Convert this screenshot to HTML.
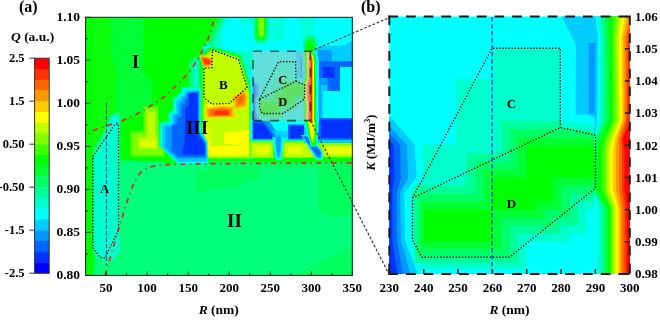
<!DOCTYPE html><html><head><meta charset="utf-8"><style>html,body{margin:0;padding:0;background:#fff;}svg{display:block;will-change:transform;}text{font-family:"Liberation Serif",serif;font-weight:bold;fill:#000;}</style></head><body>
<svg width="660" height="320" viewBox="0 0 660 320">
<defs>
<clipPath id="cb"><rect x="389.3" y="16.6" width="240.5" height="257.4"/></clipPath>
<clipPath id="ca"><rect x="85.6" y="17.3" width="266.7" height="258.1"/></clipPath>
<clipPath id="cr"><rect x="253.0" y="51.3" width="57.4" height="69.3"/></clipPath>
</defs>
<g clip-path="url(#ca)">
<rect x="80.0" y="10.0" width="280.0" height="270.0" fill="#00FF00"/>
<polygon points="93.5,10.0 111.0,10.0 111.0,57.6 116.5,70.0 116.5,135.0 93.5,150.0" fill="#0DFF0E"/>
<polygon points="111.0,10.0 143.5,10.0 143.5,70.0 152.0,82.0 152.0,106.0 140.0,112.5 118.0,122.5 116.5,122.5 116.5,70.0 111.0,57.6" fill="#00FF33"/>
<polygon points="204.0,56.0 206.0,45.0 209.0,33.0 215.0,24.0 219.5,10.0 360.0,10.0 360.0,56.0" fill="#00FF33"/>
<polygon points="206.5,56.0 208.5,45.0 212.0,33.0 217.5,24.0 221.5,10.0 360.0,10.0 360.0,56.0" fill="#00FF66"/>
<polygon points="208.5,56.0 211.0,45.0 215.0,33.0 220.0,24.0 223.5,10.0 360.0,10.0 360.0,56.0" fill="#00FF99"/>
<polygon points="210.5,56.0 213.5,45.0 218.0,33.0 222.5,24.0 225.5,10.0 360.0,10.0 360.0,56.0" fill="#00FFCC"/>
<polygon points="227.5,10.0 360.0,10.0 360.0,56.0 225.0,50.0 221.0,44.0 221.5,33.0 225.0,24.0" fill="#00FFFF"/>
<polygon points="240.0,10.0 256.0,10.0 256.0,24.0 240.0,24.0" fill="#00FFCC" opacity="0.6"/>
<polygon points="268.0,10.0 284.0,10.0 284.0,41.0 268.0,41.0" fill="#00FFCC" opacity="0.7"/>
<polygon points="300.0,10.0 314.0,10.0 314.0,36.0 300.0,36.0" fill="#00FFCC" opacity="0.7"/>
<polygon points="201.0,54.0 203.0,46.0 208.0,43.0 212.0,46.0 212.0,56.0" fill="#00FFCC"/>
<polygon points="203.0,53.0 205.0,47.0 209.0,45.0 211.5,48.0 211.5,55.0" fill="#00FFFF"/>
<polygon points="253.5,10.0 268.0,10.0 268.0,38.0 265.0,43.0 256.0,43.0 253.5,38.0" fill="#00FF99"/>
<polygon points="255.0,10.0 266.7,10.0 266.7,36.0 264.0,41.0 257.5,41.0 255.0,36.0" fill="#00FF33"/>
<polygon points="258.5,10.0 264.0,10.0 264.0,35.0 261.5,38.0 258.5,35.0" fill="#80FF00"/>
<polygon points="303.0,40.0 306.5,35.0 314.0,35.0 317.5,40.0 317.5,54.0 303.0,54.0" fill="#00FF99"/>
<polygon points="305.0,43.0 307.5,38.5 313.0,38.5 315.5,43.0 315.5,54.0 305.0,54.0" fill="#00FF33"/>
<polygon points="306.3,46.0 308.5,42.0 311.0,42.0 312.8,46.0 312.8,54.0 306.3,54.0" fill="#00FF00"/>
<polygon points="306.5,50.5 312.5,50.5 312.5,55.0 306.5,55.0" fill="#80FF00"/>
<polygon points="317.5,42.0 360.0,42.0 360.0,126.0 317.5,126.0" fill="#00FFFF"/>
<polygon points="317.5,47.0 345.0,45.0 352.0,41.0 360.0,40.0 360.0,67.0 334.5,67.0 334.5,91.0 323.0,91.0 323.0,118.0 317.5,118.0" fill="#00CCFF"/>
<polygon points="317.5,50.0 331.7,50.0 331.7,61.3 360.0,61.3 360.0,67.0 334.5,67.0 334.5,78.0 327.5,78.0 327.5,85.0 321.0,85.0 321.0,118.0 317.5,118.0" fill="#0099FF"/>
<polygon points="319.0,61.3 360.0,61.3 360.0,67.0 340.0,67.0 340.0,91.0 327.5,91.0 327.5,78.0 319.0,78.0" fill="#0066FF"/>
<polygon points="323.0,67.0 334.5,67.0 334.5,78.0 323.0,78.0" fill="#0033FF"/>
<polygon points="189.0,62.0 195.0,56.0 200.0,57.0 200.0,88.0 189.0,88.0" fill="#00FF66"/>
<polygon points="191.5,64.0 196.0,58.0 199.0,60.0 199.0,88.0 191.5,88.0" fill="#00FF99"/>
<polygon points="194.0,66.0 196.5,61.0 198.3,64.0 198.3,88.0 194.0,88.0" fill="#00FFCC"/>
<polygon points="199.0,70.0 200.0,56.0 207.0,49.0 212.0,46.5 241.0,55.0 250.0,82.0 251.0,95.0 251.0,160.0 203.0,160.0 200.0,140.0 199.0,110.0 199.0,90.0" fill="#00FF33"/>
<polygon points="202.5,70.0 204.0,57.0 208.0,50.0 212.0,48.5 240.0,57.0 248.5,84.0 250.0,95.0 250.5,159.0 204.0,159.0 201.4,140.0 201.4,110.0 202.5,90.0" fill="#40FF00"/>
<polygon points="203.5,68.0 205.0,56.0 212.0,49.5 239.0,58.0 247.5,86.0 249.0,95.0 249.5,157.5 206.0,157.5 204.0,140.0 203.5,120.0" fill="#BFFF00"/>
<polygon points="203.5,126.0 207.0,127.0 211.0,146.0 211.0,153.0 207.0,153.0 205.0,140.0" fill="#FFFF00"/>
<polygon points="224.0,133.0 249.0,130.0 249.0,145.5 224.0,144.0" fill="#FFFF00"/>
<polygon points="209.0,146.5 249.0,145.5 249.0,155.0 210.0,155.5" fill="#FFFF00"/>
<polygon points="208.0,103.0 230.0,103.0 230.0,108.0 208.0,108.0" fill="#FFFF00"/>
<polygon points="241.0,56.0 253.0,56.0 253.0,160.0 250.5,160.0 250.5,95.0 249.0,82.0" fill="#00FFCC"/>
<polygon points="250.0,70.0 253.0,70.0 253.0,121.0 251.5,121.0 251.5,90.0" fill="#00FFFF"/>
<polygon points="199.0,55.0 205.0,55.5 212.6,58.0 212.6,64.0 210.0,66.5 203.5,66.5" fill="#FFCC00"/>
<polygon points="201.0,57.0 206.0,57.5 211.5,59.5 211.5,63.5 209.5,65.5 204.0,65.5" fill="#FF6600"/>
<polygon points="203.5,59.0 207.0,59.5 210.0,61.0 209.5,64.0 205.5,64.0" fill="#FF3300"/>
<polygon points="205.3,108.0 222.0,105.5 234.0,106.5 235.0,117.6 206.0,118.0" fill="#FFCC00"/>
<polygon points="207.0,109.0 222.0,107.0 232.0,108.0 232.5,116.5 208.0,117.0" fill="#FF9900"/>
<polygon points="210.0,110.0 222.0,108.5 230.0,109.5 230.0,115.6 211.0,116.0" fill="#FF6600"/>
<polygon points="214.0,111.0 228.0,110.5 228.5,115.0 215.0,115.0" fill="#FF3300"/>
<polygon points="232.0,96.0 245.5,90.0 248.0,98.0 246.5,107.3 234.0,109.0" fill="#FFCC00"/>
<polygon points="234.0,97.0 244.0,92.0 246.0,99.0 245.0,106.0 236.0,107.5" fill="#FF9900"/>
<polygon points="237.0,98.0 243.0,95.0 244.0,101.0 239.0,105.0" fill="#FF6600"/>
<polygon points="143.0,106.0 159.0,106.0 159.0,131.0 165.0,133.0 165.0,157.0 130.0,157.0 130.0,131.0 143.0,131.0" fill="#40FF00"/>
<polygon points="144.5,108.5 157.5,108.5 157.5,133.0 163.5,135.0 163.5,155.0 132.5,155.0 132.5,133.0 144.5,133.0" fill="#80FF00"/>
<polygon points="147.0,112.5 155.0,112.5 155.0,137.0 157.2,137.0 157.2,148.5 138.7,148.5 138.7,137.2 147.0,137.0" fill="#BFFF00"/>
<polygon points="141.0,140.0 156.0,140.0 156.0,147.0 141.0,147.0" fill="#FFFF00" opacity="0.5"/>
<polygon points="201.4,86.0 201.4,130.0 207.5,141.0 208.0,165.0 178.0,165.0 159.0,146.0 159.0,122.0 168.0,120.8 168.0,111.0 172.5,109.8 172.5,97.0 177.0,95.8 177.0,93.0 180.5,91.8 180.5,86.5" fill="#00FF66"/>
<polygon points="200.5,87.5 200.5,130.0 207.0,142.0 207.5,164.0 178.5,164.0 160.5,146.5 160.5,123.5 169.6,122.3 169.6,112.5 174.0,111.3 174.0,98.5 178.4,97.3 178.4,94.5 182.0,93.3 182.0,88.0" fill="#00FFCC"/>
<polygon points="200.0,88.5 200.0,130.5 207.0,142.0 207.5,163.5 178.5,163.5 161.5,147.0 161.5,124.2 170.6,123.0 170.6,113.2 175.0,112.0 175.0,99.2 179.4,98.0 179.4,95.2 183.2,94.0 183.2,89.2" fill="#00FFFF"/>
<polygon points="199.7,90.0 199.7,131.0 206.5,142.5 207.0,162.0 178.0,162.0 162.7,147.5 162.7,125.0 171.9,123.8 171.9,114.2 176.3,113.0 176.3,100.2 180.6,99.0 180.6,96.2 184.4,95.0 184.4,90.5" fill="#00CCFF"/>
<polygon points="199.0,91.0 199.0,132.0 206.0,143.0 206.5,158.5 177.5,158.5 165.5,148.0 165.5,127.0 174.4,125.8 174.4,115.3 178.8,114.1 178.8,102.8 182.5,101.6 182.5,97.8 186.3,96.6 186.3,92.7" fill="#0099FF"/>
<polygon points="198.5,92.0 198.5,133.0 205.5,143.5 205.5,157.0 178.5,157.0 172.0,151.0 172.0,125.0 177.0,123.8 177.0,118.0 181.5,116.8 181.5,105.0 184.8,103.8 184.8,100.0 187.5,98.8 187.5,94.0" fill="#0066FF"/>
<polygon points="188.5,92.7 197.5,92.7 197.5,135.0 205.0,144.6 205.0,154.5 183.0,154.5 182.4,149.5 184.5,144.0 185.0,125.0 185.0,108.0 188.5,106.0" fill="#0033FF"/>
<polygon points="92.8,152.0 98.0,142.0 103.0,134.0 107.0,126.0 109.0,118.0 113.0,113.0 120.0,113.0 121.0,255.0 118.0,261.0 96.0,262.0 92.8,252.0" fill="#00FF99"/>
<polygon points="94.0,160.0 98.0,149.0 103.0,140.0 107.5,131.0 110.0,122.0 114.0,117.0 119.0,117.0 119.5,252.0 114.0,258.0 99.0,258.0 94.0,249.0" fill="#00FFCC"/>
<polygon points="110.5,124.0 112.0,118.0 116.0,116.0 119.0,119.0 118.8,128.0 114.0,131.0" fill="#00FFFF" opacity="0.7"/>
<polygon points="119.5,160.5 160.0,161.5 168.0,164.0 206.0,164.8 210.0,162.0 360.0,161.5 360.0,280.0 94.0,280.0 94.0,262.0 121.0,260.0" fill="#00FF7A"/>
<polygon points="318.4,163.0 360.0,163.0 360.0,216.0 327.0,216.0 318.4,210.0" fill="#00FF5C"/>
<polygon points="285.0,280.0 360.0,242.5 360.0,280.0" fill="#00FF5C"/>
<polygon points="250.0,163.0 259.0,163.0 259.0,180.0 250.0,180.0" fill="#00FF5C"/>
<polygon points="196.0,170.0 252.5,168.0 252.0,176.0 246.0,181.0 236.0,188.0 208.0,188.5 204.0,192.0 196.0,192.0" fill="#00FF5C"/>
<polygon points="211.0,161.0 360.0,161.0 360.0,167.5 211.0,167.5" fill="#00FF5C"/>
<rect x="252.5" y="157.0" width="107.5" height="5.0" fill="#00FF00"/>
<rect x="250.0" y="121.0" width="56.0" height="22.0" fill="#00FFFF"/>
<rect x="250.0" y="139.0" width="56.0" height="4.0" fill="#00FF99"/>
<rect x="250.0" y="141.5" width="23.5" height="16.5" fill="#80FF00"/>
<rect x="282.5" y="141.5" width="23.5" height="16.5" fill="#80FF00"/>
<rect x="252.0" y="143.5" width="19.5" height="13.0" fill="#BFFF00"/>
<rect x="284.5" y="143.5" width="20.0" height="13.0" fill="#BFFF00"/>
<polygon points="256.0,146.0 269.0,146.0 269.0,154.5 256.0,154.5" fill="#FFFF00" opacity="0.6"/>
<polygon points="288.0,146.0 302.0,146.0 302.0,154.5 288.0,154.5" fill="#FFFF00" opacity="0.6"/>
<polygon points="252.5,121.0 266.0,121.0 276.0,136.0 276.0,139.5 252.5,139.5" fill="#0066FF"/>
<polygon points="253.0,123.0 263.0,123.0 272.0,136.0 272.0,138.5 253.0,138.5" fill="#0033FF"/>
<polygon points="264.0,121.0 269.0,121.0 281.0,137.5 276.5,139.5" fill="#0099FF"/>
<polygon points="272.5,130.8 290.5,130.8 290.5,138.0 278.0,138.0" fill="#00CCFF"/>
<rect x="288.0" y="124.5" width="18.0" height="15.0" fill="#0066FF"/>
<rect x="290.0" y="126.0" width="14.5" height="12.0" fill="#0033FF"/>
<polygon points="272.5,137.0 284.0,137.0 281.5,160.0 275.5,160.0" fill="#00FFFF"/>
<polygon points="274.5,137.0 282.0,137.0 280.5,158.0 276.5,158.0" fill="#00CCFF"/>
<polygon points="275.8,137.0 280.8,137.0 279.8,155.0 277.2,155.0" fill="#0099FF"/>
<rect x="304.0" y="118.0" width="56.0" height="25.0" fill="#00CCFF"/>
<polygon points="318.0,118.0 360.0,118.0 360.0,139.8 318.0,139.8" fill="#0066FF"/>
<polygon points="321.0,120.0 360.0,120.0 360.0,138.0 321.0,138.0" fill="#0033FF"/>
<polygon points="316.0,143.0 360.0,143.0 360.0,157.5 320.0,157.5" fill="#80FF00"/>
<polygon points="321.0,145.0 360.0,145.0 360.0,156.0 323.0,156.0" fill="#BFFF00"/>
<polygon points="326.0,147.0 360.0,147.0 360.0,154.0 328.0,154.0" fill="#FFFF00" opacity="0.7"/>
<polygon points="304.0,143.0 316.0,143.0 320.0,157.5 304.0,157.5" fill="#BFFF00"/>
<polygon points="301.0,135.0 309.0,135.0 323.0,152.0 323.0,159.5 316.0,159.5" fill="#00FFFF"/>
<polygon points="302.5,136.0 309.0,136.0 321.5,152.0 321.0,158.0 317.0,158.0" fill="#0099FF"/>
<polygon points="304.0,137.0 308.5,137.0 320.0,152.0 319.5,156.0 317.5,156.0" fill="#0066FF"/>
<polygon points="303.0,118.0 319.0,118.0 317.5,146.0 311.0,147.0" fill="#00FFFF"/>
<polygon points="305.0,118.0 317.0,118.0 316.0,145.0 311.5,146.0" fill="#00FF00"/>
<polygon points="306.5,118.0 315.5,118.0 314.5,142.0 312.0,143.0" fill="#80FF00"/>
<polygon points="308.0,118.0 314.0,118.0 313.3,138.0 311.5,140.0" fill="#FFFF00"/>
<polygon points="309.5,116.0 313.0,116.0 312.8,123.0 310.0,123.0" fill="#FF6600"/>
<polygon points="309.0,51.0 313.0,50.0 316.5,53.0 318.7,58.0 318.7,121.0 309.0,121.0" fill="#00FFFF"/>
<polygon points="309.0,52.0 312.5,51.5 315.0,55.0 316.1,60.0 316.1,121.0 309.0,121.0" fill="#00FF00"/>
<polygon points="309.0,53.5 312.0,53.0 313.5,57.0 314.0,62.0 314.0,121.0 309.0,121.0" fill="#FFFF00"/>
<polygon points="309.0,55.0 311.5,55.0 312.7,59.0 312.8,64.0 312.8,121.0 309.0,121.0" fill="#FF9900"/>
<polygon points="309.0,57.0 311.0,57.0 312.0,61.0 312.0,121.0 309.0,121.0" fill="#FF3300"/>
<polygon points="309.0,63.0 311.5,63.0 311.5,118.0 309.0,118.0" fill="#FF0000"/>
<g clip-path="url(#cr)"><g transform="translate(160.086,46.831) scale(0.23867,0.26923)">
<rect x="380.0" y="10.0" width="260.0" height="270.0" fill="#00FFFF"/>
<polygon points="456.2,79.0 492.4,79.0 492.4,48.4 560.6,48.4 560.6,121.1 598.0,121.1 598.0,209.6 586.9,209.6 586.9,233.7 569.7,233.7 569.7,241.8 526.7,241.8 526.7,269.0 428.0,269.0 424.0,266.0 411.0,240.0 410.6,193.5 422.6,178.0 422.4,144.5 456.2,144.5" fill="#00FFCC"/>
<rect x="414.4" y="185.5" width="103.8" height="77.5" fill="#00FF99"/>
<rect x="466.6" y="153.3" width="94.4" height="80.4" fill="#00FF99"/>
<rect x="500.9" y="121.2" width="77.3" height="104.5" fill="#00FF99"/>
<rect x="526.7" y="121.2" width="71.3" height="80.3" fill="#00FF99"/>
<rect x="417.5" y="193.5" width="92.1" height="63.1" fill="#00FF66"/>
<rect x="475.2" y="161.3" width="77.3" height="64.4" fill="#00FF66"/>
<rect x="509.5" y="129.2" width="60.2" height="88.5" fill="#00FF66"/>
<rect x="535.3" y="129.2" width="62.7" height="64.3" fill="#00FF66"/>
<rect x="421.0" y="201.6" width="80.0" height="47.4" fill="#00FF33"/>
<rect x="483.8" y="169.4" width="60.1" height="48.3" fill="#00FF33"/>
<rect x="518.1" y="137.3" width="43.0" height="72.4" fill="#00FF33"/>
<rect x="543.9" y="137.3" width="54.1" height="48.2" fill="#00FF33"/>
<rect x="423.8" y="209.6" width="68.6" height="32.0" fill="#00FF00"/>
<rect x="492.4" y="177.4" width="42.9" height="32.2" fill="#00FF00"/>
<rect x="526.7" y="145.3" width="25.8" height="56.3" fill="#00FF00"/>
<rect x="552.5" y="145.3" width="45.5" height="32.1" fill="#00FF00"/>
<polygon points="560.6,121.1 598.0,126.5 598.0,133.0 560.6,127.5" fill="#00FFCC"/>
<polygon points="560.6,48.4 598.0,48.4 598.0,126.0 560.6,121.1" fill="#00FFFF"/>
<polygon points="558.5,10.0 598.0,10.0 598.0,119.5 588.0,114.5 575.5,114.5 576.0,45.0" fill="#00CCFF"/>
<rect x="588.6" y="43.0" width="7.0" height="70.6" fill="#0099FF"/>
<polygon points="380.0,116.0 389.3,116.0 414.5,144.0 416.2,170.0 416.2,178.0 404.3,193.0 405.0,240.0 420.0,280.0 380.0,280.0" fill="#00CCFF"/>
<polygon points="380.0,126.0 389.3,126.0 407.0,145.0 408.0,178.0 400.0,193.0 401.0,240.0 412.0,280.0 380.0,280.0" fill="#0099FF"/>
<polygon points="380.0,133.0 389.3,133.0 400.0,145.0 401.0,178.0 396.5,193.0 397.0,240.0 404.0,280.0 380.0,280.0" fill="#0066FF"/>
<polygon points="380.0,141.0 389.3,141.0 393.5,145.0 394.5,178.0 392.3,193.0 392.5,240.0 398.0,280.0 380.0,280.0" fill="#0033FF"/>
<polygon points="594.0,16.0 594.0,20.0 595.6,37.0 594.6,115.0 594.6,120.0 594.0,139.0 594.0,150.0 594.0,190.0 594.0,208.0 594.0,275.0 640.0,275.0 640.0,16.0" fill="#00CCFF"/>
<polygon points="595.6,16.0 595.6,20.0 597.9,37.0 597.2,115.0 597.2,120.0 594.0,139.0 594.0,150.0 594.0,190.0 594.0,208.0 594.0,275.0 640.0,275.0 640.0,16.0" fill="#00FFFF"/>
<polygon points="598.5,16.0 598.5,20.0 600.2,37.0 599.8,115.0 599.8,120.0 594.0,139.0 594.0,150.0 594.0,190.0 597.9,208.0 597.9,275.0 640.0,275.0 640.0,16.0" fill="#00FFCC"/>
<polygon points="601.0,16.0 601.0,20.0 602.6,37.0 602.3,115.0 602.3,120.0 594.0,139.0 594.0,150.0 594.0,190.0 601.0,208.0 601.0,275.0 640.0,275.0 640.0,16.0" fill="#00FF99"/>
<polygon points="603.9,16.0 603.9,20.0 604.9,37.0 604.9,115.0 604.9,120.0 596.0,139.0 594.0,150.0 594.0,190.0 603.4,208.0 603.4,275.0 640.0,275.0 640.0,16.0" fill="#00FF66"/>
<polygon points="606.7,16.0 606.7,20.0 607.3,37.0 607.4,115.0 607.4,120.0 598.5,139.0 594.0,150.0 594.0,190.0 605.7,208.0 605.7,275.0 640.0,275.0 640.0,16.0" fill="#00FF33"/>
<polygon points="609.6,16.0 609.6,20.0 609.6,37.0 610.0,115.0 610.0,120.0 601.5,139.0 598.0,150.0 598.0,190.0 608.0,208.0 608.0,275.0 640.0,275.0 640.0,16.0" fill="#00FF00"/>
<polygon points="612.6,16.0 612.6,20.0 612.0,37.0 612.5,115.0 612.5,120.0 604.2,139.0 601.8,150.0 601.8,190.0 610.0,208.0 610.0,275.0 640.0,275.0 640.0,16.0" fill="#40FF00"/>
<polygon points="615.6,16.0 615.6,20.0 614.3,37.0 615.1,115.0 615.1,120.0 607.0,139.0 605.0,150.0 605.0,190.0 612.0,208.0 612.0,275.0 640.0,275.0 640.0,16.0" fill="#80FF00"/>
<polygon points="618.7,16.0 618.7,20.0 616.7,37.0 617.6,115.0 617.6,120.0 609.8,139.0 607.3,150.0 607.3,190.0 613.9,208.0 613.9,275.0 640.0,275.0 640.0,16.0" fill="#BFFF00"/>
<polygon points="621.7,16.0 621.7,20.0 619.0,37.0 620.2,115.0 620.2,120.0 612.5,139.0 609.6,150.0 609.6,190.0 615.9,208.0 615.9,275.0 640.0,275.0 640.0,16.0" fill="#FFFF00"/>
<polygon points="624.3,16.0 624.3,20.0 621.2,37.0 621.9,115.0 621.9,120.0 614.8,139.0 612.8,150.0 612.8,190.0 618.2,208.0 618.2,275.0 640.0,275.0 640.0,16.0" fill="#FFCC00"/>
<polygon points="626.9,16.0 626.9,20.0 623.4,37.0 623.6,115.0 623.6,120.0 617.0,139.0 615.9,150.0 615.9,190.0 619.8,208.0 619.8,275.0 640.0,275.0 640.0,16.0" fill="#FF9900"/>
<polygon points="629.5,16.0 629.5,20.0 625.6,37.0 625.3,115.0 625.3,120.0 619.2,139.0 619.0,150.0 619.0,190.0 622.0,208.0 622.0,275.0 640.0,275.0 640.0,16.0" fill="#FF6600"/>
<polygon points="632.0,16.0 632.0,20.0 627.8,37.0 627.0,115.0 627.0,120.0 621.5,139.0 622.0,150.0 622.0,190.0 624.5,208.0 624.5,275.0 640.0,275.0 640.0,16.0" fill="#FF3300"/>
<polygon points="633.0,16.0 633.0,20.0 631.0,37.0 631.0,115.0 631.0,120.0 622.5,139.0 624.5,150.0 624.5,190.0 626.8,208.0 626.8,275.0 640.0,275.0 640.0,16.0" fill="#FF0000"/>
</g></g>
<rect x="253.0" y="51.3" width="57.4" height="69.3" fill="#C0C0C0" fill-opacity="0.5"/>
</g>
<g clip-path="url(#cb)">
<rect x="380.0" y="10.0" width="260.0" height="270.0" fill="#00FFFF"/>
<polygon points="456.2,79.0 492.4,79.0 492.4,48.4 560.6,48.4 560.6,121.1 598.0,121.1 598.0,209.6 586.9,209.6 586.9,233.7 569.7,233.7 569.7,241.8 526.7,241.8 526.7,269.0 428.0,269.0 424.0,266.0 411.0,240.0 410.6,193.5 422.6,178.0 422.4,144.5 456.2,144.5" fill="#00FFCC"/>
<rect x="414.4" y="185.5" width="103.8" height="77.5" fill="#00FF99"/>
<rect x="466.6" y="153.3" width="94.4" height="80.4" fill="#00FF99"/>
<rect x="500.9" y="121.2" width="77.3" height="104.5" fill="#00FF99"/>
<rect x="526.7" y="121.2" width="71.3" height="80.3" fill="#00FF99"/>
<rect x="417.5" y="193.5" width="92.1" height="63.1" fill="#00FF66"/>
<rect x="475.2" y="161.3" width="77.3" height="64.4" fill="#00FF66"/>
<rect x="509.5" y="129.2" width="60.2" height="88.5" fill="#00FF66"/>
<rect x="535.3" y="129.2" width="62.7" height="64.3" fill="#00FF66"/>
<rect x="421.0" y="201.6" width="80.0" height="47.4" fill="#00FF33"/>
<rect x="483.8" y="169.4" width="60.1" height="48.3" fill="#00FF33"/>
<rect x="518.1" y="137.3" width="43.0" height="72.4" fill="#00FF33"/>
<rect x="543.9" y="137.3" width="54.1" height="48.2" fill="#00FF33"/>
<rect x="423.8" y="209.6" width="68.6" height="32.0" fill="#00FF00"/>
<rect x="492.4" y="177.4" width="42.9" height="32.2" fill="#00FF00"/>
<rect x="526.7" y="145.3" width="25.8" height="56.3" fill="#00FF00"/>
<rect x="552.5" y="145.3" width="45.5" height="32.1" fill="#00FF00"/>
<polygon points="560.6,121.1 598.0,126.5 598.0,133.0 560.6,127.5" fill="#00FFCC"/>
<polygon points="560.6,48.4 598.0,48.4 598.0,126.0 560.6,121.1" fill="#00FFFF"/>
<polygon points="558.5,10.0 598.0,10.0 598.0,119.5 588.0,114.5 575.5,114.5 576.0,45.0" fill="#00CCFF"/>
<rect x="588.6" y="43.0" width="7.0" height="70.6" fill="#0099FF"/>
<polygon points="380.0,116.0 389.3,116.0 414.5,144.0 416.2,170.0 416.2,178.0 404.3,193.0 405.0,240.0 420.0,280.0 380.0,280.0" fill="#00CCFF"/>
<polygon points="380.0,126.0 389.3,126.0 407.0,145.0 408.0,178.0 400.0,193.0 401.0,240.0 412.0,280.0 380.0,280.0" fill="#0099FF"/>
<polygon points="380.0,133.0 389.3,133.0 400.0,145.0 401.0,178.0 396.5,193.0 397.0,240.0 404.0,280.0 380.0,280.0" fill="#0066FF"/>
<polygon points="380.0,141.0 389.3,141.0 393.5,145.0 394.5,178.0 392.3,193.0 392.5,240.0 398.0,280.0 380.0,280.0" fill="#0033FF"/>
<polygon points="594.0,16.0 594.0,20.0 595.6,37.0 594.6,115.0 594.6,120.0 594.0,139.0 594.0,150.0 594.0,190.0 594.0,208.0 594.0,275.0 640.0,275.0 640.0,16.0" fill="#00CCFF"/>
<polygon points="595.6,16.0 595.6,20.0 597.9,37.0 597.2,115.0 597.2,120.0 594.0,139.0 594.0,150.0 594.0,190.0 594.0,208.0 594.0,275.0 640.0,275.0 640.0,16.0" fill="#00FFFF"/>
<polygon points="598.5,16.0 598.5,20.0 600.2,37.0 599.8,115.0 599.8,120.0 594.0,139.0 594.0,150.0 594.0,190.0 597.9,208.0 597.9,275.0 640.0,275.0 640.0,16.0" fill="#00FFCC"/>
<polygon points="601.0,16.0 601.0,20.0 602.6,37.0 602.3,115.0 602.3,120.0 594.0,139.0 594.0,150.0 594.0,190.0 601.0,208.0 601.0,275.0 640.0,275.0 640.0,16.0" fill="#00FF99"/>
<polygon points="603.9,16.0 603.9,20.0 604.9,37.0 604.9,115.0 604.9,120.0 596.0,139.0 594.0,150.0 594.0,190.0 603.4,208.0 603.4,275.0 640.0,275.0 640.0,16.0" fill="#00FF66"/>
<polygon points="606.7,16.0 606.7,20.0 607.3,37.0 607.4,115.0 607.4,120.0 598.5,139.0 594.0,150.0 594.0,190.0 605.7,208.0 605.7,275.0 640.0,275.0 640.0,16.0" fill="#00FF33"/>
<polygon points="609.6,16.0 609.6,20.0 609.6,37.0 610.0,115.0 610.0,120.0 601.5,139.0 598.0,150.0 598.0,190.0 608.0,208.0 608.0,275.0 640.0,275.0 640.0,16.0" fill="#00FF00"/>
<polygon points="612.6,16.0 612.6,20.0 612.0,37.0 612.5,115.0 612.5,120.0 604.2,139.0 601.8,150.0 601.8,190.0 610.0,208.0 610.0,275.0 640.0,275.0 640.0,16.0" fill="#40FF00"/>
<polygon points="615.6,16.0 615.6,20.0 614.3,37.0 615.1,115.0 615.1,120.0 607.0,139.0 605.0,150.0 605.0,190.0 612.0,208.0 612.0,275.0 640.0,275.0 640.0,16.0" fill="#80FF00"/>
<polygon points="618.7,16.0 618.7,20.0 616.7,37.0 617.6,115.0 617.6,120.0 609.8,139.0 607.3,150.0 607.3,190.0 613.9,208.0 613.9,275.0 640.0,275.0 640.0,16.0" fill="#BFFF00"/>
<polygon points="621.7,16.0 621.7,20.0 619.0,37.0 620.2,115.0 620.2,120.0 612.5,139.0 609.6,150.0 609.6,190.0 615.9,208.0 615.9,275.0 640.0,275.0 640.0,16.0" fill="#FFFF00"/>
<polygon points="624.3,16.0 624.3,20.0 621.2,37.0 621.9,115.0 621.9,120.0 614.8,139.0 612.8,150.0 612.8,190.0 618.2,208.0 618.2,275.0 640.0,275.0 640.0,16.0" fill="#FFCC00"/>
<polygon points="626.9,16.0 626.9,20.0 623.4,37.0 623.6,115.0 623.6,120.0 617.0,139.0 615.9,150.0 615.9,190.0 619.8,208.0 619.8,275.0 640.0,275.0 640.0,16.0" fill="#FF9900"/>
<polygon points="629.5,16.0 629.5,20.0 625.6,37.0 625.3,115.0 625.3,120.0 619.2,139.0 619.0,150.0 619.0,190.0 622.0,208.0 622.0,275.0 640.0,275.0 640.0,16.0" fill="#FF6600"/>
<polygon points="632.0,16.0 632.0,20.0 627.8,37.0 627.0,115.0 627.0,120.0 621.5,139.0 622.0,150.0 622.0,190.0 624.5,208.0 624.5,275.0 640.0,275.0 640.0,16.0" fill="#FF3300"/>
<polygon points="633.0,16.0 633.0,20.0 631.0,37.0 631.0,115.0 631.0,120.0 622.5,139.0 624.5,150.0 624.5,190.0 626.8,208.0 626.8,275.0 640.0,275.0 640.0,16.0" fill="#FF0000"/>
<polygon points="412.5,198.0 560.3,127.5 595.5,135.3 595.5,188.0 509.4,257.2 422.0,257.2 412.5,240.0" stroke="#000" stroke-width="1.35" stroke-dasharray="1.35 1.75" fill="none"/>
<polyline points="412.5,198.0 492.1,48.2 560.3,48.2 560.3,127.5" stroke="#000" stroke-width="1.35" stroke-dasharray="1.35 1.75" fill="none"/>
<line x1="492.1" y1="16.9" x2="492.1" y2="275" stroke="#1428E6" stroke-width="1.2" stroke-dasharray="4.7 2.3"/>
<text x="511.5" y="108" font-size="13" text-anchor="middle">C</text>
<text x="511.4" y="207.8" font-size="13" text-anchor="middle">D</text>
</g>
<polygon points="92.8,156.5 115.0,124.5 118.5,124.0 118.5,230.0 105.0,258.0 100.0,257.5 92.8,247.5" stroke="#000" stroke-width="1.35" stroke-dasharray="1.35 1.75" fill="none"/>
<polygon points="212.3,50.0 238.5,59.5 247.0,87.5 229.4,103.5 212.0,104.0 204.0,98.0 204.0,68.0 212.0,67.8" stroke="#000" stroke-width="1.35" stroke-dasharray="1.35 1.75" fill="none"/>
<polygon points="259.5,99.2 296.0,81.3 304.8,85.0 304.5,99.0 283.3,113.5 262.0,113.5 259.5,107.0" stroke="#000" stroke-width="1.35" stroke-dasharray="1.35 1.75" fill="none"/>
<polyline points="259.5,99.2 278.6,61.6 295.6,61.6 296.0,81.3" stroke="#000" stroke-width="1.35" stroke-dasharray="1.35 1.75" fill="none"/>
<line x1="253.0" y1="51.3" x2="310.4" y2="51.3" stroke="#000" stroke-opacity="0.62" stroke-width="1.6" stroke-dasharray="9 8"/>
<line x1="253.0" y1="120.6" x2="310.4" y2="120.6" stroke="#000" stroke-opacity="0.62" stroke-width="1.6" stroke-dasharray="9 8"/>
<line x1="253.0" y1="60.0" x2="253.0" y2="120.6" stroke="#000" stroke-opacity="0.62" stroke-width="1.6" stroke-dasharray="9 8"/>
<line x1="310.4" y1="51.3" x2="310.4" y2="120.6" stroke="#000" stroke-opacity="0.62" stroke-width="1.6" stroke-dasharray="9 8"/>
<line x1="106.5" y1="103.1" x2="106.5" y2="265" stroke="#1A40E0" stroke-width="1.1" stroke-dasharray="4.4 2"/>
<polyline points="85.6,134.8 95.8,129.6 105.0,126.3 118.0,122.4 130.0,117.5 140.0,112.3 152.0,105.0 165.5,96.0 177.0,85.0 188.8,72.8 196.0,62.0 201.0,53.5 207.0,42.0 211.0,31.0 214.8,17.3" stroke="#E22626" stroke-width="1.7" stroke-dasharray="5.1 4.4 1.2 4.4" fill="none" stroke-dashoffset="6.6"/>
<polyline points="105.0,275.4 112.0,252.0 118.0,231.0 126.0,205.0 133.8,183.0 140.0,173.0 147.5,167.5 160.0,165.0 200.0,163.8 260.0,163.3 352.3,162.8" stroke="#E22626" stroke-width="1.7" stroke-dasharray="5.1 4.4 1.2 4.4" fill="none" stroke-dashoffset="0.0"/>
<text x="135.5" y="67.5" font-size="19" text-anchor="middle">I</text>
<text x="234.4" y="227.3" font-size="19" text-anchor="middle">II</text>
<text x="197" y="133.9" font-size="19" text-anchor="middle">III</text>
<text x="104.5" y="192.8" font-size="12.7" text-anchor="middle">A</text>
<text x="223.3" y="89.2" font-size="13" text-anchor="middle">B</text>
<text x="282.75" y="83.6" font-size="12.5" text-anchor="middle">C</text>
<text x="282.75" y="105.5" font-size="12.5" text-anchor="middle">D</text>
<line x1="310.4" y1="51.3" x2="388.3" y2="18.1" stroke="#222" stroke-width="1.05" stroke-dasharray="2.7 1.8"/>
<line x1="310.4" y1="120.6" x2="388.6" y2="273.5" stroke="#222" stroke-width="1.05" stroke-dasharray="2.7 1.8"/>
<rect x="85.6" y="17.3" width="266.7" height="258.1" fill="none" stroke="#222" stroke-width="1"/>
<line x1="106.1" y1="275.4" x2="106.1" y2="271.4" stroke="#222" stroke-width="1"/>
<line x1="126.6" y1="275.4" x2="126.6" y2="273.4" stroke="#222" stroke-width="1"/>
<line x1="147.1" y1="275.4" x2="147.1" y2="271.4" stroke="#222" stroke-width="1"/>
<line x1="167.7" y1="275.4" x2="167.7" y2="273.4" stroke="#222" stroke-width="1"/>
<line x1="188.2" y1="275.4" x2="188.2" y2="271.4" stroke="#222" stroke-width="1"/>
<line x1="208.7" y1="275.4" x2="208.7" y2="273.4" stroke="#222" stroke-width="1"/>
<line x1="229.2" y1="275.4" x2="229.2" y2="271.4" stroke="#222" stroke-width="1"/>
<line x1="249.7" y1="275.4" x2="249.7" y2="273.4" stroke="#222" stroke-width="1"/>
<line x1="270.2" y1="275.4" x2="270.2" y2="271.4" stroke="#222" stroke-width="1"/>
<line x1="290.8" y1="275.4" x2="290.8" y2="273.4" stroke="#222" stroke-width="1"/>
<line x1="311.3" y1="275.4" x2="311.3" y2="271.4" stroke="#222" stroke-width="1"/>
<line x1="331.8" y1="275.4" x2="331.8" y2="273.4" stroke="#222" stroke-width="1"/>
<line x1="352.3" y1="275.4" x2="352.3" y2="271.4" stroke="#222" stroke-width="1"/>
<line x1="85.6" y1="275.4" x2="90.6" y2="275.4" stroke="#222" stroke-width="1"/>
<line x1="85.6" y1="253.9" x2="88.1" y2="253.9" stroke="#222" stroke-width="1"/>
<line x1="85.6" y1="232.4" x2="90.6" y2="232.4" stroke="#222" stroke-width="1"/>
<line x1="85.6" y1="210.9" x2="88.1" y2="210.9" stroke="#222" stroke-width="1"/>
<line x1="85.6" y1="189.4" x2="90.6" y2="189.4" stroke="#222" stroke-width="1"/>
<line x1="85.6" y1="167.9" x2="88.1" y2="167.9" stroke="#222" stroke-width="1"/>
<line x1="85.6" y1="146.4" x2="90.6" y2="146.4" stroke="#222" stroke-width="1"/>
<line x1="85.6" y1="124.8" x2="88.1" y2="124.8" stroke="#222" stroke-width="1"/>
<line x1="85.6" y1="103.3" x2="90.6" y2="103.3" stroke="#222" stroke-width="1"/>
<line x1="85.6" y1="81.8" x2="88.1" y2="81.8" stroke="#222" stroke-width="1"/>
<line x1="85.6" y1="60.3" x2="90.6" y2="60.3" stroke="#222" stroke-width="1"/>
<line x1="85.6" y1="38.8" x2="88.1" y2="38.8" stroke="#222" stroke-width="1"/>
<line x1="85.6" y1="17.3" x2="90.6" y2="17.3" stroke="#222" stroke-width="1"/>
<text x="80" y="279.35" font-size="13.5" text-anchor="end">0.80</text>
<text x="80" y="236.33" font-size="13.5" text-anchor="end">0.85</text>
<text x="80" y="193.32" font-size="13.5" text-anchor="end">0.90</text>
<text x="80" y="150.30" font-size="13.5" text-anchor="end">0.95</text>
<text x="80" y="107.28" font-size="13.5" text-anchor="end">1.00</text>
<text x="80" y="64.27" font-size="13.5" text-anchor="end">1.05</text>
<text x="80" y="21.25" font-size="13.5" text-anchor="end">1.10</text>
<text x="106.1" y="291.5" font-size="13" text-anchor="middle">50</text>
<text x="147.1" y="291.5" font-size="13" text-anchor="middle">100</text>
<text x="188.2" y="291.5" font-size="13" text-anchor="middle">150</text>
<text x="229.2" y="291.5" font-size="13" text-anchor="middle">200</text>
<text x="270.2" y="291.5" font-size="13" text-anchor="middle">250</text>
<text x="311.3" y="291.5" font-size="13" text-anchor="middle">300</text>
<text x="352.3" y="291.5" font-size="13" text-anchor="middle">350</text>
<text x="218.7" y="314.3" font-size="13.5" text-anchor="middle"><tspan font-style="italic">R</tspan> (nm)</text>
<line x1="388.3" y1="16.6" x2="630.8" y2="16.6" stroke="#201818" stroke-width="2" stroke-dasharray="9.7 8"/>
<line x1="388.3" y1="274.0" x2="630.8" y2="274.0" stroke="#201818" stroke-width="2" stroke-dasharray="9.7 8"/>
<line x1="389.3" y1="15.6" x2="389.3" y2="275.0" stroke="#201818" stroke-width="2" stroke-dasharray="9.7 8"/>
<line x1="629.8" y1="15.6" x2="629.8" y2="275.0" stroke="#201818" stroke-width="2" stroke-dasharray="9.7 8"/>
<line x1="389.3" y1="274.0" x2="389.3" y2="269.0" stroke="#201818" stroke-width="1.5"/>
<text x="389.3" y="291.5" font-size="13" text-anchor="middle">230</text>
<line x1="423.7" y1="274.0" x2="423.7" y2="269.0" stroke="#201818" stroke-width="1.5"/>
<text x="423.7" y="291.5" font-size="13" text-anchor="middle">240</text>
<line x1="458.0" y1="274.0" x2="458.0" y2="269.0" stroke="#201818" stroke-width="1.5"/>
<text x="458.0" y="291.5" font-size="13" text-anchor="middle">250</text>
<line x1="492.4" y1="274.0" x2="492.4" y2="269.0" stroke="#201818" stroke-width="1.5"/>
<text x="492.4" y="291.5" font-size="13" text-anchor="middle">260</text>
<line x1="526.7" y1="274.0" x2="526.7" y2="269.0" stroke="#201818" stroke-width="1.5"/>
<text x="526.7" y="291.5" font-size="13" text-anchor="middle">270</text>
<line x1="561.1" y1="274.0" x2="561.1" y2="269.0" stroke="#201818" stroke-width="1.5"/>
<text x="561.1" y="291.5" font-size="13" text-anchor="middle">280</text>
<line x1="595.4" y1="274.0" x2="595.4" y2="269.0" stroke="#201818" stroke-width="1.5"/>
<text x="595.4" y="291.5" font-size="13" text-anchor="middle">290</text>
<line x1="629.8" y1="274.0" x2="629.8" y2="269.0" stroke="#201818" stroke-width="1.5"/>
<text x="629.8" y="291.5" font-size="13" text-anchor="middle">300</text>
<line x1="629.8" y1="274.0" x2="624.8" y2="274.0" stroke="#201818" stroke-width="1.5"/>
<text x="634.9" y="278.20" font-size="13">0.98</text>
<line x1="629.8" y1="241.8" x2="624.8" y2="241.8" stroke="#201818" stroke-width="1.5"/>
<text x="634.9" y="246.03" font-size="13">0.99</text>
<line x1="629.8" y1="209.7" x2="624.8" y2="209.7" stroke="#201818" stroke-width="1.5"/>
<text x="634.9" y="213.85" font-size="13">1.00</text>
<line x1="629.8" y1="177.5" x2="624.8" y2="177.5" stroke="#201818" stroke-width="1.5"/>
<text x="634.9" y="181.68" font-size="13">1.01</text>
<line x1="629.8" y1="145.3" x2="624.8" y2="145.3" stroke="#201818" stroke-width="1.5"/>
<text x="634.9" y="149.50" font-size="13">1.02</text>
<line x1="629.8" y1="113.1" x2="624.8" y2="113.1" stroke="#201818" stroke-width="1.5"/>
<text x="634.9" y="117.33" font-size="13">1.03</text>
<line x1="629.8" y1="81.0" x2="624.8" y2="81.0" stroke="#201818" stroke-width="1.5"/>
<text x="634.9" y="85.15" font-size="13">1.04</text>
<line x1="629.8" y1="48.8" x2="624.8" y2="48.8" stroke="#201818" stroke-width="1.5"/>
<text x="634.9" y="52.98" font-size="13">1.05</text>
<line x1="629.8" y1="16.6" x2="624.8" y2="16.6" stroke="#201818" stroke-width="1.5"/>
<text x="634.9" y="20.80" font-size="13">1.06</text>
<text x="509.5" y="314.3" font-size="13.5" text-anchor="middle"><tspan font-style="italic">R</tspan> (nm)</text>
<text transform="translate(374.5,142.5) rotate(-90)" font-size="12.5" text-anchor="middle"><tspan font-style="italic">K</tspan> (MJ/m<tspan font-size="8" dy="-5">3</tspan><tspan dy="5">)</tspan></text>
<text x="19" y="11.5" font-size="16">(a)</text>
<text x="361" y="11.5" font-size="16">(b)</text>
<rect x="34.6" y="58.2" width="14.6" height="11.0" fill="#FF0000"/>
<rect x="34.6" y="69.0" width="14.6" height="11.0" fill="#FF3300"/>
<rect x="34.6" y="79.7" width="14.6" height="11.0" fill="#FF6600"/>
<rect x="34.6" y="90.5" width="14.6" height="11.0" fill="#FF9900"/>
<rect x="34.6" y="101.2" width="14.6" height="11.0" fill="#FFCC00"/>
<rect x="34.6" y="112.0" width="14.6" height="11.0" fill="#FFFF00"/>
<rect x="34.6" y="122.7" width="14.6" height="11.0" fill="#BFFF00"/>
<rect x="34.6" y="133.4" width="14.6" height="11.1" fill="#80FF00"/>
<rect x="34.6" y="144.2" width="14.6" height="11.1" fill="#40FF00"/>
<rect x="34.6" y="154.9" width="14.6" height="11.1" fill="#00FF00"/>
<rect x="34.6" y="165.7" width="14.6" height="11.1" fill="#00FF33"/>
<rect x="34.6" y="176.4" width="14.6" height="11.1" fill="#00FF66"/>
<rect x="34.6" y="187.2" width="14.6" height="11.1" fill="#00FF99"/>
<rect x="34.6" y="197.9" width="14.6" height="11.1" fill="#00FFCC"/>
<rect x="34.6" y="208.7" width="14.6" height="11.1" fill="#00FFFF"/>
<rect x="34.6" y="219.4" width="14.6" height="11.1" fill="#00CCFF"/>
<rect x="34.6" y="230.2" width="14.6" height="11.1" fill="#0099FF"/>
<rect x="34.6" y="240.9" width="14.6" height="11.1" fill="#0066FF"/>
<rect x="34.6" y="251.7" width="14.6" height="11.1" fill="#0033FF"/>
<rect x="34.6" y="262.4" width="14.6" height="11.1" fill="#0000FF"/>
<rect x="34.6" y="58.2" width="14.6" height="215.0" fill="none" stroke="#333" stroke-width="1"/>
<line x1="29.4" y1="58.2" x2="34.6" y2="58.2" stroke="#333" stroke-width="1"/>
<text x="24.6" y="62.00" font-size="12.5" text-anchor="end">2.5</text>
<line x1="29.4" y1="101.2" x2="34.6" y2="101.2" stroke="#333" stroke-width="1"/>
<text x="24.6" y="105.00" font-size="12.5" text-anchor="end">1.5</text>
<line x1="29.4" y1="144.2" x2="34.6" y2="144.2" stroke="#333" stroke-width="1"/>
<text x="24.6" y="148.00" font-size="12.5" text-anchor="end">0.50</text>
<line x1="29.4" y1="187.2" x2="34.6" y2="187.2" stroke="#333" stroke-width="1"/>
<text x="24.6" y="191.00" font-size="12.5" text-anchor="end">-0.50</text>
<line x1="29.4" y1="230.2" x2="34.6" y2="230.2" stroke="#333" stroke-width="1"/>
<text x="24.6" y="234.00" font-size="12.5" text-anchor="end">-1.5</text>
<line x1="29.4" y1="273.2" x2="34.6" y2="273.2" stroke="#333" stroke-width="1"/>
<text x="24.6" y="277.00" font-size="12.5" text-anchor="end">-2.5</text>
<text x="11" y="40.6" font-size="13.5"><tspan font-style="italic">Q</tspan> (a.u.)</text>
</svg></body></html>
